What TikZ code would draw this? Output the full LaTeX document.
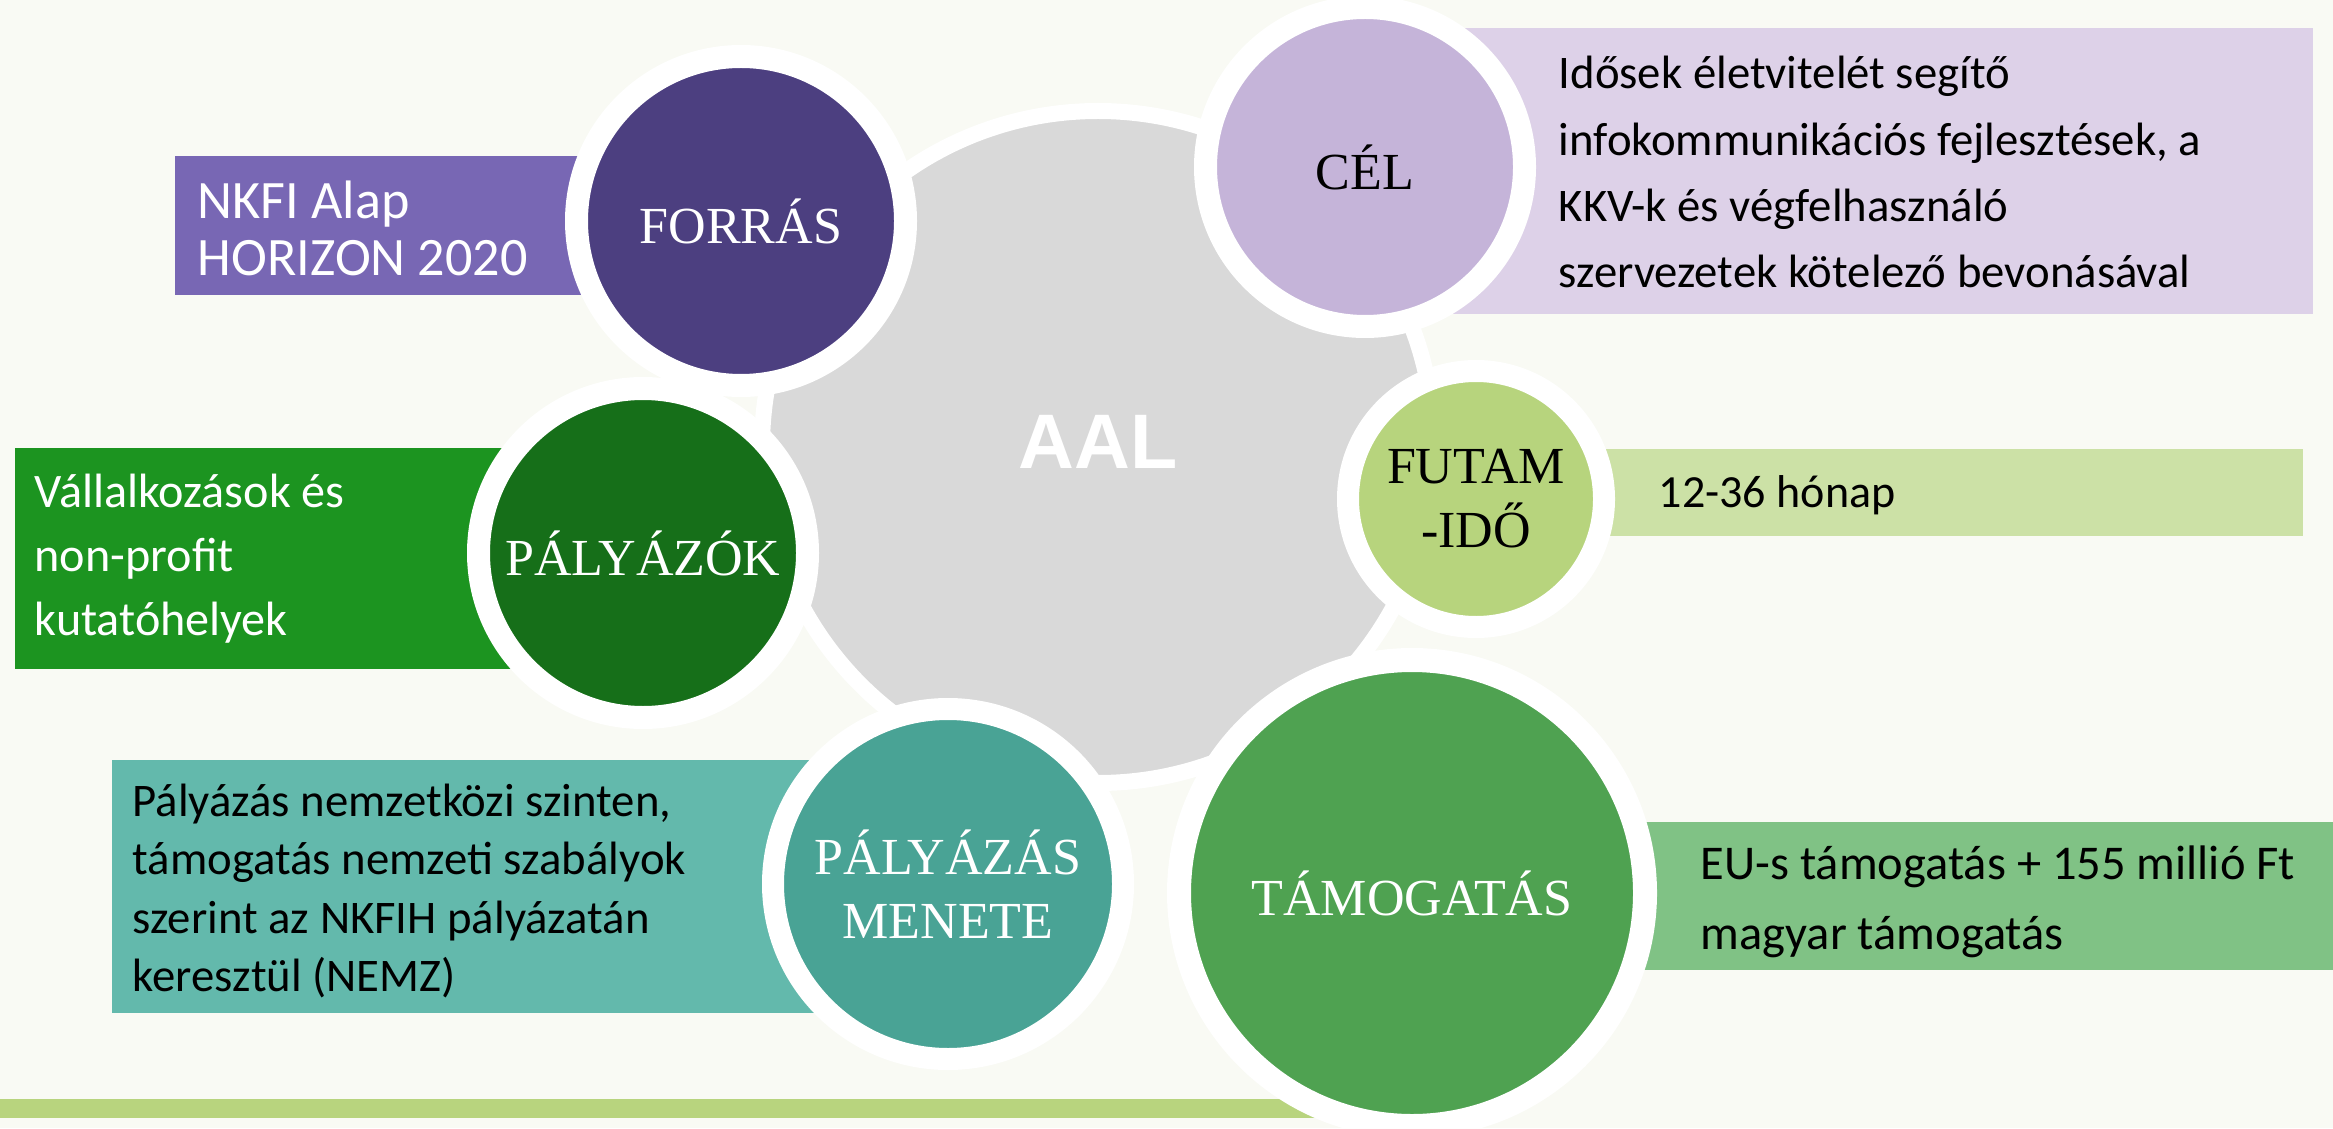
\documentclass[tikz,border=0pt]{standalone}
\usepackage{fontspec}
\setmainfont{Liberation Serif}
\newfontfamily\boxfont{Carlito}
\newfontfamily\aalfont{Liberation Sans}

\definecolor{paper}{HTML}{F9FAF4}
\definecolor{hub}{HTML}{D9D9D9}
\definecolor{bar}{HTML}{B8D47E}
\definecolor{forras}{HTML}{4C3F80}
\definecolor{forrasbox}{HTML}{7867B4}
\definecolor{palyazok}{HTML}{166F19}
\definecolor{palyazokbox}{HTML}{1C9420}
\definecolor{cel}{HTML}{C5B4D9}
\definecolor{celbox}{HTML}{DDD1E8}
\definecolor{futam}{HTML}{B7D47D}
\definecolor{futambox}{HTML}{CCE1A6}
\definecolor{menete}{HTML}{49A395}
\definecolor{menetebox}{HTML}{63B9AC}
\definecolor{tamog}{HTML}{4FA251}
\definecolor{tamogbox}{HTML}{80C285}

\tikzset{bubble/.style={circle,draw=white,inner sep=0pt,align=center,font=\fontsize{14.8}{18.2}\selectfont}}
\tikzset{boxtext/.style={anchor=west,align=left,inner sep=0pt}}

\begin{document}
\begin{tikzpicture}
        % page and the bar at the bottom
        \fill[paper] (0,0) rectangle (23.33,11.28);
        \useasboundingbox (0,0) rectangle (23.33,11.28);
        \fill[bar] (0,0.10) rectangle (14.12,0.29);
        % the grey hub
        \node[bubble,fill=hub,minimum size=6.72cm,line width=0.16cm] (aal) at (10.98,6.81) {};
        \node[text=white,inner sep=0pt,font=\aalfont\bfseries\fontsize{22}{26}\selectfont] (aaltext) at (10.98,6.86) {AAL};

        % boxes behind the bubbles
        \fill[forrasbox] (1.75,8.33) rectangle (7.41,9.72);
        \fill[palyazokbox] (0.15,4.59) rectangle (6.43,6.80);
        \fill[menetebox] (1.12,1.15) rectangle (9.48,3.68);
        \fill[celbox] (13.65,8.14) rectangle (23.13,11.00);
        \fill[futambox] (14.76,5.92) rectangle (23.03,6.79);
        \fill[tamogbox] (14.12,1.58) rectangle (23.33,3.06);

        % the bubbles
        \node[bubble,fill=forras,text=white,minimum size=3.29cm,line width=0.23cm] (forras) at (7.41,9.07) {FORRÁS};
        \node[bubble,fill=palyazok,text=white,minimum size=3.29cm,line width=0.23cm] (palyazok) at (6.43,5.75) {PÁLYÁZÓK};
        \node[bubble,fill=cel,text=black,minimum size=3.19cm,line width=0.23cm] (cel) at (13.65,9.61) {CÉL};
        \node[bubble,fill=futam,text=black,minimum size=2.56cm,line width=0.22cm] (futam) at (14.76,6.29) {FUTAM\\-IDŐ};
        \node[bubble,fill=menete,text=white,minimum size=3.50cm,line width=0.22cm] (menete) at (9.48,2.44) {PÁLYÁZÁS\\MENETE};
        \node[bubble,fill=tamog,text=white,minimum size=4.66cm,line width=0.24cm] (tamog) at (14.12,2.35) {TÁMOGATÁS};

        % texts in the boxes
        \node[boxtext,text=white,font=\boxfont\fontsize{15.4}{16.2}\selectfont] (forrasinfo) at (1.97,8.995) {NKFI Alap\\HORIZON 2020};
        \node[boxtext,text=white,font=\boxfont\fontsize{13.7}{18.2}\selectfont] (palyazokinfo) at (0.34,5.69) {Vállalkozások és\\non-profit\\kutatóhelyek};
        \node[boxtext,text=black,font=\boxfont\fontsize{13.3}{16.6}\selectfont] (meneteinfo) at (1.32,2.37) {Pályázás nemzetközi szinten,\\támogatás nemzeti szabályok\\szerint az NKFIH pályázatán\\keresztül (NEMZ)};
        \node[boxtext,text=black,font=\boxfont\fontsize{13.3}{18.8}\selectfont] (celinfo) at (15.58,9.56) {Idősek életvitelét segítő\\infokommunikációs fejlesztések, a\\KKV-k és végfelhasználó\\szervezetek kötelező bevonásával};
        \node[boxtext,text=black,font=\boxfont\fontsize{13.1}{16}\selectfont] (futaminfo) at (16.58,6.33) {12-36 hónap};
        \node[boxtext,text=black,font=\boxfont\fontsize{13.8}{19.9}\selectfont] (tamoginfo) at (17.00,2.26) {EU-s támogatás + 155 millió Ft\\magyar támogatás};
\end{tikzpicture}
\end{document}
